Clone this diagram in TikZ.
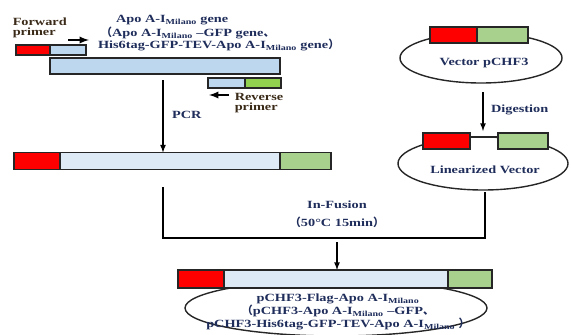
\documentclass[tikz,border=0pt]{standalone}
\usepackage{fontspec}
\setmainfont[FakeStretch=1.3]{Liberation Serif}
\newfontfamily\cjk{Noto Sans CJK SC}
\usetikzlibrary{shapes,arrows}

\definecolor{redc}{HTML}{FF0000}
\definecolor{bluea}{HTML}{BDD7EE}
\definecolor{blueb}{HTML}{DEEBF7}
\definecolor{greena}{HTML}{A9D18E}
\definecolor{greenb}{HTML}{92D050}
\definecolor{navy}{HTML}{1F2D5B}
\definecolor{brownc}{HTML}{3A2A18}

\newcommand{\mil}{I\textsubscript{Milano}}

\begin{document}
\begin{tikzpicture}[x=1pt, y=-1pt, line width=1.5pt, font=\fontsize{11}{12.5}\selectfont\bfseries, text=navy]
\tikzstyle{seg}=[rectangle, draw=black!85, line width=1.4pt, inner sep=0pt]
\tikzstyle{plasmid}=[ellipse, draw=black!85, line width=1.4pt, inner sep=0pt]
\tikzstyle{drawstyle}=[line width=1.6pt, -latex]
\tikzstyle{primerarrow}=[line width=2.2pt, -latex]
\tikzstyle{primertext}=[text=brownc, align=left, anchor=west, inner sep=1pt, font=\fontsize{11}{10}\selectfont\bfseries]
\useasboundingbox (0,0) rectangle (571,335);

% template and primers
\node[primertext] (FwT) at (11,28) {Forward\\primer};
\coordinate (FwA0) at (68,40);
\coordinate (FwA1) at (89,40);
\draw[primerarrow] (FwA0) -- (FwA1);
\node[seg, fill=redc, minimum width=34pt, minimum height=10pt] (Fw0) at (33,50) {};
\node[seg, fill=bluea, minimum width=36pt, minimum height=10pt] (Fw1) at (68,50) {};
\node[anchor=west] (GnT0) at (112,20) {Apo A-\mil{} gene};
\node[anchor=west] (GnT1) at (97,33) {{\cjk （}Apo A-\mil{} --GFP gene{\cjk 、}};
\node[anchor=west] (GnT2) at (94,45) {His6tag-GFP-TEV-Apo A-\mil{} gene{\cjk ）}};
\node[seg, fill=bluea, minimum width=230pt, minimum height=16pt] (Tp0) at (165,66) {};
\node[seg, fill=bluea, minimum width=37pt, minimum height=10pt] (Rv0) at (226.5,83) {};
\node[seg, fill=greenb, minimum width=36pt, minimum height=10pt] (Rv1) at (263,83) {};
\coordinate (RvA0) at (229,95);
\coordinate (RvA1) at (209,95);
\draw[primerarrow] (RvA0) -- (RvA1);
\node[primertext] (RvT) at (233,103) {Reverse\\primer};

% PCR product
\coordinate (PcA) at (163,80);
\node[seg, fill=redc, minimum width=46pt, minimum height=17pt] (Pr0) at (37,161) {};
\node[seg, fill=blueb, minimum width=220pt, minimum height=17pt] (Pr1) at (170,161) {};
\node[seg, fill=greena, minimum width=51pt, minimum height=17pt] (Pr2) at (305.5,161) {};
\coordinate (PcB) at (163,152.5);
\draw[drawstyle] (PcA) -- (PcB);
\node[anchor=west] (PcT) at (168,115) {PCR};

% vector and digestion
\node[plasmid, minimum width=162pt, minimum height=50pt] (Vc) at (481,58) {};
\node (VcT) at (484,63) {Vector pCHF3};
\node[seg, fill=redc, minimum width=47pt, minimum height=16pt] (Vc0) at (453.5,35) {};
\node[seg, fill=greena, minimum width=51pt, minimum height=16pt] (Vc1) at (502.5,35) {};
\coordinate (DgA) at (483,92);
\coordinate (DgB) at (483,131);
\draw[drawstyle] (DgA) -- (DgB);
\node[anchor=west] (DgT) at (487,110) {Digestion};
\node[plasmid, minimum width=170pt, minimum height=53pt] (Lv) at (483,163.5) {};
\node (LvT) at (485,170) {Linearized Vector};
\node[seg, fill=redc, minimum width=47pt, minimum height=16pt] (Lv0) at (446.5,141) {};
\node[seg, fill=greena, minimum width=50pt, minimum height=16pt] (Lv1) at (523,141) {};
\draw[line width=1.4pt, black!85] ([yshift=4pt]Lv0.east) -- ([yshift=4pt]Lv1.west);

% in-fusion
\coordinate (IfL0) at (163,187);
\coordinate (IfL1) at (163,238);
\coordinate (IfR1) at (485,238);
\coordinate (IfR0) at (485,192);
\draw (IfL0) -- (IfL1) -- (IfR1) -- (IfR0);
\node (IfT) at (337,205) {In-Fusion};
\node (IfT1) at (337,222) {{\cjk （}50\textdegree C 15min{\cjk ）}};
\coordinate (IfA) at (337,242);
\coordinate (IfB) at (337,270);
\draw[drawstyle] (IfA) -- (IfB);

% recombinant plasmid
\node[plasmid, minimum width=302pt, minimum height=56pt] (Fu) at (336,308) {};
\node[seg, fill=redc, minimum width=46pt, minimum height=18pt] (Fu0) at (201,279) {};
\node[seg, fill=blueb, minimum width=224pt, minimum height=18pt] (Fu1) at (336,279) {};
\node[seg, fill=greena, minimum width=44pt, minimum height=18pt] (Fu2) at (470,279) {};
\node[align=center, font=\fontsize{11}{12.8}\selectfont\bfseries] (FuT) at (338,312)
  {pCHF3-Flag-Apo A-\mil\\{\cjk （}pCHF3-Apo A-\mil{} --GFP{\cjk 、}\\pCHF3-His6tag-GFP-TEV-Apo A-\mil{} {\cjk ）}};
\end{tikzpicture}
\end{document}
